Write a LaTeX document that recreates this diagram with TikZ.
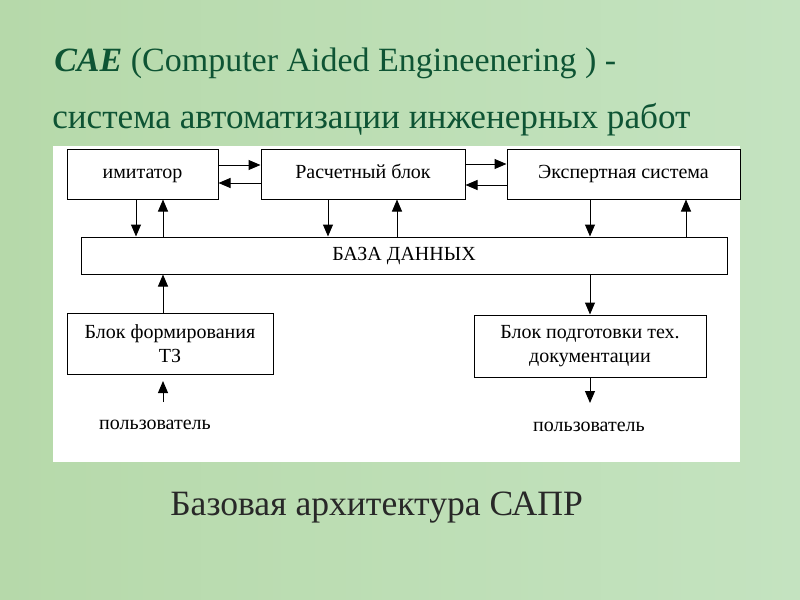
\documentclass[tikz,border=0pt]{standalone}
\usepackage{fontspec}
\setmainfont{Liberation Serif}
\usetikzlibrary{arrows.meta}
\definecolor{bgA}{RGB}{182,217,170}
\definecolor{bgB}{RGB}{196,227,192}
\definecolor{ttl}{RGB}{14,84,52}
\definecolor{cap}{RGB}{40,40,40}
\tikzset{
  box/.style={draw=black, line width=0.75pt, fill=white, inner sep=0pt, align=center, font=\fontsize{15}{18}\selectfont},
  arr/.style={line width=0.75pt, -{Triangle[length=9pt,width=7.5pt]}},
  lbl/.style={inner sep=0pt, font=\fontsize{15}{18}\selectfont}
}
\begin{document}
\begin{tikzpicture}[x=0.75pt,y=-0.75pt]
\useasboundingbox (0,0) rectangle (800,600);
\shade[left color=bgA, right color=bgB] (0,0) rectangle (800,600);
% title
\node[anchor=base west, inner sep=0pt, text=ttl, font=\fontsize{25.5}{30}\selectfont] (t1) at (54,71) {\textbf{\textit{CAE}} (Computer Aided Engineenering ) -};
\node[anchor=base west, inner sep=0pt, text=ttl, font=\fontsize{26.4}{30}\selectfont] (t2) at (52,128) {система автоматизации инженерных работ};
% white panel
\fill[white] (53,146) rectangle (740,462);
% boxes
\node[box, minimum width=113.25pt, minimum height=37.5pt] (imit) at (142.5,174) {\strut имитатор};
\node[box, minimum width=153pt, minimum height=37.5pt] (rasch) at (363,174) {\strut Расчетный блок};
\node[box, minimum width=174.75pt, minimum height=37.5pt] (expert) at (623.5,174) {\strut Экспертная система};
\node[box, minimum width=484.5pt, minimum height=27.75pt] (db) at (404,255.5) {\strut БАЗА ДАННЫХ};
\node[box, minimum width=154.5pt, minimum height=45.75pt] (form) at (170,343.5) {Блок формирования\\ТЗ};
\node[box, minimum width=174pt, minimum height=46.5pt] (podg) at (590,346) {Блок подготовки тех.\\документации};
\node[lbl] (user1) at (155,425) {\strut пользователь};
\node[lbl] (user2) at (589,427) {\strut пользователь};
% horizontal arrows
\draw[arr] (imit.east |- 0,165) -- (rasch.west |- 0,165);
\draw[arr] (rasch.west |- 0,183) -- (imit.east |- 0,183);
\draw[arr] (rasch.east |- 0,164) -- (expert.west |- 0,164);
\draw[arr] (expert.west |- 0,185) -- (rasch.east |- 0,185);
% vertical arrows
\draw[arr] (imit.south -| 136,0) -- (db.north -| 136,0);
\draw[arr] (db.north -| 163,0) -- (imit.south -| 163,0);
\draw[arr] (rasch.south -| 328,0) -- (db.north -| 328,0);
\draw[arr] (db.north -| 397,0) -- (rasch.south -| 397,0);
\draw[arr] (expert.south -| 590,0) -- (db.north -| 590,0);
\draw[arr] (db.north -| 686,0) -- (expert.south -| 686,0);
\draw[arr] (form.north -| 163,0) -- (db.south -| 163,0);
\draw[arr] (db.south -| 590,0) -- (podg.north -| 590,0);
\coordinate (u1a) at (163,402);
\coordinate (u1b) at (163,381);
\draw[arr] (u1a) -- (u1b);
\coordinate (u2b) at (590,403);
\draw[arr] (podg.south -| 590,0) -- (u2b);
% caption
\node[anchor=base west, inner sep=0pt, text=cap, font=\fontsize{26.7}{30}\selectfont] (cap) at (170,515) {Базовая архитектура САПР};
\end{tikzpicture}
\end{document}
